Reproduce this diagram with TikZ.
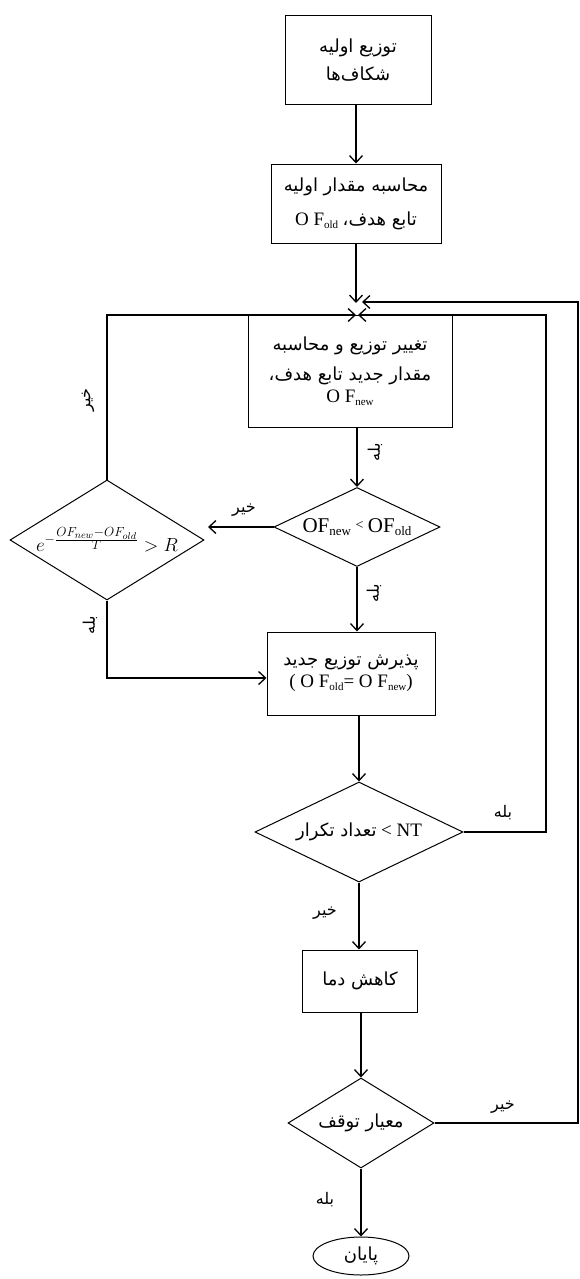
\documentclass[tikz,border=0pt]{standalone}
\usepackage{fontspec}
\usepackage{graphicx}
\setmainfont{Liberation Serif}
\newfontfamily\fafont[Script=Arabic]{DejaVu Sans}
\TeXXeTstate=1
\usetikzlibrary{shapes.geometric,arrows.meta}
\newcommand{\FA}[1]{{\fafont\beginR #1\endR}}
\newcommand{\lsb}[1]{\raisebox{-0.35ex}{\fontsize{11}{11}\selectfont #1}}
\newcommand{\msb}[1]{\raisebox{-0.35ex}{\fontsize{13}{13}\selectfont #1}}
\newcommand{\LT}[1]{{\fontsize{19}{22}\selectfont #1}}
\newcommand{\BT}[1]{{\fontsize{21}{24}\selectfont #1}}
\tikzset{
  every node/.style={inner sep=0pt, font=\fontsize{18}{28}\selectfont},
  stepbox/.style={draw, line width=1pt, align=center},
  decision/.style={draw, diamond, line width=1pt},
  conn/.style={line width=1.3pt, -{Straight Barb[length=7pt,width=13pt,line width=1.3pt]}},
  lbl/.style={font=\fontsize{16}{18}\selectfont},
}
\begin{document}
\begin{tikzpicture}[x=1pt,y=-1pt]
\useasboundingbox (0,0) rectangle (579,1279);
% boxes
\node[stepbox, minimum width=146pt, minimum height=89pt] (b1) at (358,60.5)
  {\FA{توزیع اولیه}\\\FA{شکاف‌ها}};
\node[stepbox, minimum width=170pt, minimum height=79pt] (b2) at (356,203.5)
  {\FA{محاسبه مقدار اولیه}\\[6pt]\LT{O F}\lsb{old} \FA{تابع هدف،}};
\node[stepbox, minimum width=204pt, minimum height=112pt] (b3) at (350,371)
  {\FA{تغییر توزیع و محاسبه}\\[2pt]\FA{مقدار جدید تابع هدف،}\\[-6pt]\LT{O F}\lsb{new}};
\node[decision, minimum width=166pt, minimum height=79pt,
  label={center:{\BT{OF}\msb{new}\ \raisebox{0.3ex}{\fontsize{14}{14}\selectfont <}\ \BT{OF}\msb{old}}}] (M) at (357,527) {};
\node[decision, minimum width=194pt, minimum height=120pt,
  label={center:{\scalebox{1.1}{$e^{-\frac{\scriptstyle OF_{new}-OF_{old}}{\scriptstyle T}}>R$}}}] (L) at (107,540) {};
\node[stepbox, minimum width=168pt, minimum height=83pt] (b4) at (351,673.5)
  {\FA{پذیرش توزیع جدید}\\[-6pt]\LT{( O F}\lsb{old}\LT{= O F}\lsb{new}\LT{)}};
\node[decision, minimum width=208pt, minimum height=100pt,
  label={center:{\FA{تعداد تکرار} \LT{< NT}}}] (NT) at (359,832) {};
\node[stepbox, minimum width=115pt, minimum height=62pt] (b5) at (360,981)
  {\FA{کاهش دما}};
\node[decision, minimum width=146pt, minimum height=90pt,
  label={center:{\FA{معیار توقف}}}] (stop) at (361,1123) {};
\node[draw, ellipse, line width=1pt, minimum width=96pt, minimum height=38pt] (e) at (361,1256)
  {\FA{پایان}};
% junction coordinates
\coordinate (jt) at (356,303);
\coordinate (jr) at (362,302);
\coordinate (ml) at (356,315);
\coordinate (mr) at (358,315);
\coordinate (rt) at (578,302);
\coordinate (rb) at (578,1123);
\coordinate (r2t) at (546,315);
\coordinate (r2b) at (546,832);
\coordinate (lt) at (107,315);
\coordinate (lb) at (107,678);
\coordinate (ma) at (208,527);
% connectors
\draw[conn] (b1.south -| b2.north) -- (b2.north);
\draw[conn] (b2.south) -- (jt);
\draw[conn] (stop.east) -- (rb) -- (rt) -- (jr);
\draw[conn] (L.north) -- (lt) -- (ml);
\draw[conn] (NT.east) -- (r2b) -- (r2t) -- (mr);
\draw[conn] (b3.south -| M.north) -- (M.north);
\draw[conn] (M.west) -- (ma);
\draw[conn] (M.south) -- (M.south |- b4.north);
\draw[conn] (L.south) -- (lb) -- (lb -| b4.west);
\draw[conn] (b4.south -| NT.north) -- (NT.north);
\draw[conn] (NT.south) -- (NT.south |- b5.north);
\draw[conn] (b5.south -| stop.north) -- (stop.north);
\draw[conn] (stop.south) -- (stop.south |- e.north);
% labels
\node[lbl, rotate=90] (l1) at (88,400) {\FA{خیر}};
\node[lbl, rotate=90] (l2) at (375,452) {\FA{بله}};
\node[lbl] (l3) at (244,510) {\FA{خیر}};
\node[lbl, rotate=90] (l4) at (374,593) {\FA{بله}};
\node[lbl, rotate=90] (l5) at (90,625) {\FA{بله}};
\node[lbl] (l6) at (503,813) {\FA{بله}};
\node[lbl] (l7) at (325,913) {\FA{خیر}};
\node[lbl] (l8) at (503,1107) {\FA{خیر}};
\node[lbl] (l9) at (325,1200) {\FA{بله}};
\end{tikzpicture}
\end{document}
